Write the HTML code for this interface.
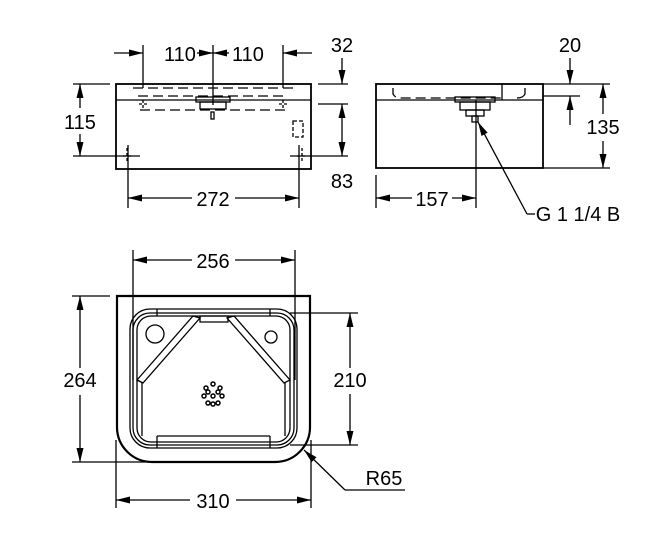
<!DOCTYPE html>
<html><head><style>body{margin:0;background:#fff}svg{display:block}</style></head><body>
<svg width="656" height="540" viewBox="0 0 656 540" xmlns="http://www.w3.org/2000/svg" font-family="Liberation Sans, sans-serif" font-size="20">
<defs>
<marker id="a" markerWidth="14" markerHeight="8" refX="14" refY="4" orient="auto-start-reverse" markerUnits="userSpaceOnUse"><path d="M0,0.5 L14,4 L0,7.5z" fill="#000"/></marker>
</defs>
<g stroke="#000" fill="none" stroke-width="1.3">
<!-- FRONT VIEW -->
<rect x="116" y="84" width="195" height="85" stroke-width="1.8"/>
<line x1="116" y1="100" x2="311" y2="100"/>
<path d="M133,88 h160 M138,96 h150" stroke-dasharray="10,5"/>
<path d="M140,110 h145" stroke-dasharray="10,5"/>
<rect x="196" y="97" width="34" height="5"/><rect x="200" y="102" width="26" height="7"/>
<rect x="211" y="112" width="3" height="7"/>
<path d="M127,148 v14 M123,156 h8 M302,148 v14 M297,156 h8 M143,100 v10 M139,104 h8 M283,100 v10 M279,104 h8" stroke-dasharray="3,2"/>
<rect x="293" y="121" width="10" height="16" stroke-dasharray="4,2"/>
<!-- dims front -->
<line x1="143" y1="45" x2="143" y2="88"/><line x1="213" y1="45" x2="213" y2="105"/><line x1="283" y1="45" x2="283" y2="88"/>
<line x1="114" y1="53" x2="143" y2="53" marker-end="url(#a)"/>
<line x1="197" y1="53" x2="213" y2="53" marker-end="url(#a)"/>
<line x1="229" y1="53" x2="213" y2="53" marker-end="url(#a)"/>
<line x1="312" y1="53" x2="283" y2="53" marker-end="url(#a)"/>
<line x1="73" y1="84" x2="110" y2="84"/><line x1="73" y1="156" x2="140" y2="156"/>
<line x1="80" y1="108" x2="80" y2="84" marker-end="url(#a)"/><line x1="80" y1="134" x2="80" y2="156" marker-end="url(#a)"/>
<line x1="318" y1="84" x2="348" y2="84"/><line x1="318" y1="104" x2="348" y2="104"/><line x1="290" y1="156" x2="348" y2="156"/>
<line x1="342" y1="58" x2="342" y2="84" marker-end="url(#a)"/>
<line x1="342" y1="130" x2="342" y2="104" marker-end="url(#a)"/><line x1="342" y1="130" x2="342" y2="156" marker-end="url(#a)"/>
<line x1="128" y1="145" x2="128" y2="208"/><line x1="299" y1="145" x2="299" y2="208"/>
<line x1="192" y1="198" x2="128" y2="198" marker-end="url(#a)"/><line x1="235" y1="198" x2="299" y2="198" marker-end="url(#a)"/>
<!-- SIDE VIEW -->
<rect x="376" y="84" width="167" height="84" stroke-width="1.8"/>
<line x1="376" y1="100" x2="543" y2="100"/>
<line x1="502" y1="84" x2="502" y2="100"/>
<path d="M393,88 v6 q2,4 8,4 h100" stroke-dasharray="10,5"/>
<path d="M525,88 v6 q-2,4 -8,4"/>
<rect x="455" y="97" width="40" height="5"/><rect x="460" y="102" width="30" height="8"/><rect x="466" y="110" width="18" height="6"/><rect x="472" y="116" width="6" height="6"/>
<line x1="476" y1="100" x2="476" y2="208"/><line x1="376" y1="175" x2="376" y2="208"/>
<line x1="412" y1="198" x2="376" y2="198" marker-end="url(#a)"/><line x1="452" y1="198" x2="476" y2="198" marker-end="url(#a)"/>
<line x1="527" y1="214" x2="478" y2="122" marker-end="url(#a)" /><line x1="527" y1="214" x2="535" y2="214"/>
<line x1="543" y1="84" x2="610" y2="84"/><line x1="543" y1="96" x2="580" y2="96"/><line x1="543" y1="168" x2="610" y2="168"/>
<line x1="570" y1="58" x2="570" y2="84" marker-end="url(#a)"/><line x1="570" y1="125" x2="570" y2="96" marker-end="url(#a)"/>
<line x1="603" y1="114" x2="603" y2="84" marker-end="url(#a)"/><line x1="603" y1="141" x2="603" y2="168" marker-end="url(#a)"/>
<!-- TOP VIEW -->
<path d="M117,296 H310 V427 A35,35 0 0 1 275,462 H152 A35,35 0 0 1 117,427 Z" stroke-width="2.2"/>
<rect x="130" y="309" width="167" height="139" rx="20"/>
<rect x="133" y="313" width="161" height="132" rx="17"/>
<rect x="137" y="316" width="153" height="126" rx="14"/>
<line x1="157" y1="309" x2="157" y2="316"/><line x1="270" y1="309" x2="270" y2="316"/>
<line x1="157" y1="436" x2="157" y2="448"/><line x1="270" y1="436" x2="270" y2="448"/>
<path d="M137,380 L193,316 L200,318 L143,383 Z"/><path d="M200,316 h28 v6 h-28 z"/>
<path d="M290,380 L234,316 L227,318 L284,383 Z"/>
<line x1="137" y1="380" x2="143" y2="383"/>
<line x1="142" y1="383" x2="142" y2="436"/><line x1="285" y1="383" x2="285" y2="436"/>
<line x1="157" y1="436" x2="270" y2="436"/>
<circle cx="155" cy="334" r="9"/>
<circle cx="271" cy="337" r="6"/>
<g stroke-width="1.5"><circle cx="213" cy="384" r="2"/><circle cx="206" cy="388" r="2"/><circle cx="220" cy="388" r="2"/><circle cx="204" cy="396" r="2"/><circle cx="222" cy="396" r="2"/><circle cx="208" cy="403" r="2"/><circle cx="218" cy="403" r="2"/><circle cx="213" cy="396" r="2"/><circle cx="213" cy="404" r="2"/><circle cx="208" cy="392" r="2"/><circle cx="218" cy="392" r="2"/></g>
<!-- dims top -->
<line x1="133" y1="250" x2="133" y2="380"/><line x1="295" y1="250" x2="295" y2="380"/>
<line x1="192" y1="260" x2="133" y2="260" marker-end="url(#a)"/><line x1="235" y1="260" x2="295" y2="260" marker-end="url(#a)"/>
<line x1="72" y1="296" x2="110" y2="296"/><line x1="72" y1="462" x2="150" y2="462"/>
<line x1="80" y1="368" x2="80" y2="296" marker-end="url(#a)"/><line x1="80" y1="395" x2="80" y2="462" marker-end="url(#a)"/>
<line x1="290" y1="313" x2="358" y2="313"/><line x1="290" y1="445" x2="358" y2="445"/>
<line x1="350" y1="368" x2="350" y2="313" marker-end="url(#a)"/><line x1="350" y1="394" x2="350" y2="445" marker-end="url(#a)"/>
<line x1="116" y1="440" x2="116" y2="508"/><line x1="311" y1="440" x2="311" y2="508"/>
<line x1="190" y1="500" x2="116" y2="500" marker-end="url(#a)"/><line x1="236" y1="500" x2="311" y2="500" marker-end="url(#a)"/>
<line x1="345" y1="490" x2="304" y2="450" marker-end="url(#a)"/><line x1="345" y1="490" x2="405" y2="490"/>
</g>
<g fill="#000" text-anchor="middle">
<text x="180" y="61">110</text><text x="248" y="61">110</text>
<text x="342" y="52">32</text><text x="80" y="129">115</text><text x="342" y="188">83</text>
<text x="213" y="206">272</text>
<text x="570" y="52">20</text><text x="603" y="134">135</text><text x="432" y="206">157</text>
<text x="578" y="221">G 1 1/4 B</text>
<text x="213" y="268">256</text><text x="80" y="387">264</text><text x="350" y="387">210</text>
<text x="213" y="508">310</text><text x="384" y="485">R65</text>
</g>
</svg>
</body></html>
